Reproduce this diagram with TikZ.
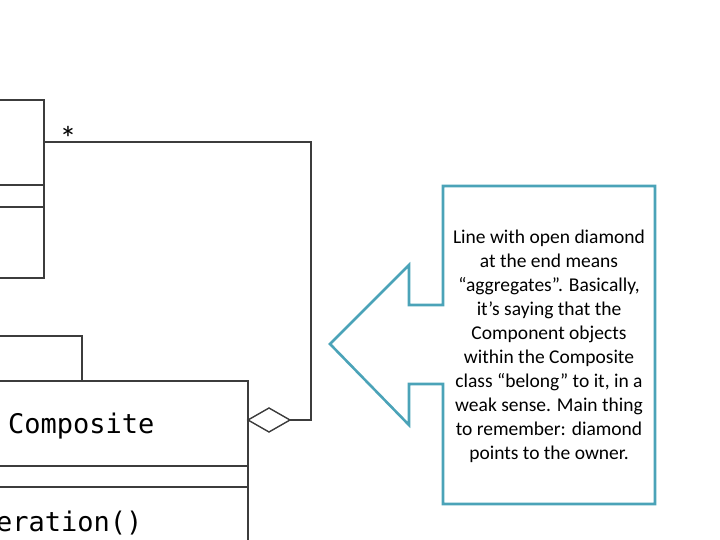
\documentclass[tikz,border=0pt]{standalone}
\usepackage{fontspec}
\setmainfont{Carlito}
\newfontfamily\umlfont{DejaVu Sans Mono}
\usetikzlibrary{positioning}
\definecolor{calloutteal}{RGB}{75,163,184}
\definecolor{umlgray}{RGB}{60,60,60}

\begin{document}
\begin{tikzpicture}[x=1pt, y=-1pt,
    umlline/.style={draw=umlgray, line width=1.4pt},
    callout/.style={draw=calloutteal, line width=2.6pt, line join=miter},
    umltext/.style={font=\umlfont\fontsize{27}{30}\selectfont, inner sep=0pt, anchor=base west}]
    \useasboundingbox (0,0) rectangle (720,540);

    % upper class box (cut off at the left)
    \draw[umlline] (-5,100) -- (44,100) -- (44,278) -- (-5,278);
    \draw[umlline] (-5,185) -- (44,185);
    \draw[umlline] (-5,207) -- (44,207);
    \coordinate (component) at (44,142);

    % composite class box
    \draw[umlline] (-5,336) -- (82,336) -- (82,381);
    \draw[umlline] (-5,381) -- (248,381) -- (248,545);
    \draw[umlline] (-5,466) -- (248,466);
    \draw[umlline] (-5,487) -- (248,487);
    \node[umltext] (composite) at (8,433) {Composite};
    \node[umltext] (operation) at (-4,531) {eration()};

    % aggregation
    \coordinate (owner) at (248,420);
    \coordinate (corner) at (311,142);
    \node[font=\fontsize{34}{36}\selectfont] (star) at (68,138) {*};
    \draw[umlline] (component) -- (corner) -- (311,420) -- (290,420);
    \draw[umlline, fill=white] (owner) -- (269,408) -- (290,420) -- (269,432) -- cycle;

    % callout
    \draw[callout] (443,186) -- (655,186) -- (655,504) -- (443,504) -- (443,384)
        -- (409,384) -- (409,425) -- (330,344) -- (409,265) -- (409,305)
        -- (443,305) -- cycle;
    \node[align=center, font=\fontsize{19.5}{24}\selectfont] (note) at (549,346)
        {Line with open diamond\\at the end means\\“aggregates”.  Basically,\\it’s saying that the\\Component objects\\within the Composite\\class “belong” to it, in a\\weak sense.  Main thing\\to remember: diamond\\points to the owner.};
\end{tikzpicture}
\end{document}
